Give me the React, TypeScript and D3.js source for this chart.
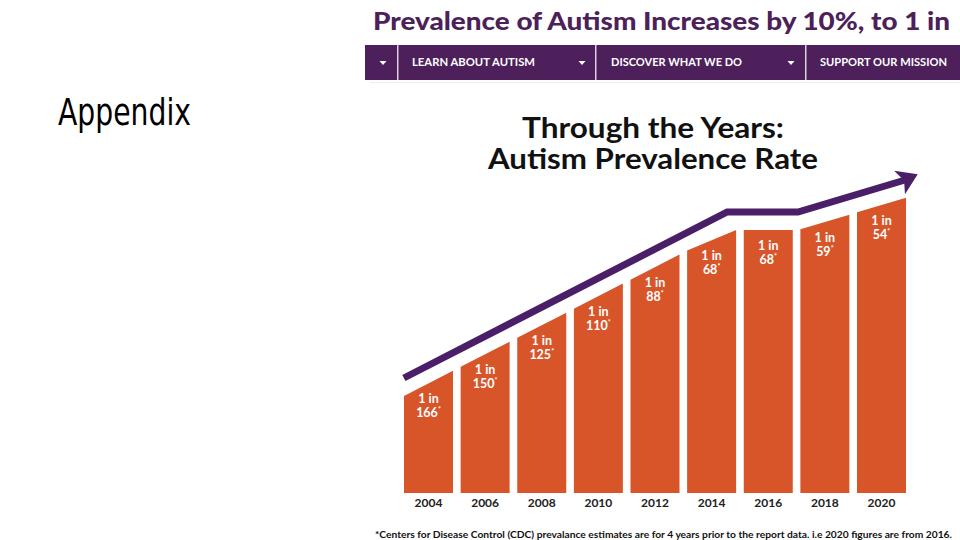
import React from "react";
import * as d3 from "d3";

// bar categories and the "1 in N" prevalence figures
const years = [2004, 2006, 2008, 2010, 2012, 2014, 2016, 2018, 2020];
const ratios = [166, 150, 125, 110, 88, 68, 68, 59, 54];

// trend arrow drawn over the bars (year, drawn level)
const trendYears = [2003.13, 2014.55, 2017.05, 2020.83];
const trendLevels = [115, 281, 281, 313];

const navItems = ["LEARN ABOUT AUTISM", "DISCOVER WHAT WE DO", "SUPPORT OUR MISSION"];

const ORANGE = "#d8552a";
const PURPLE = "#4b1f68";
const NAV = "#4d1f5b";
const FONT = "Lato, 'Open Sans', sans-serif";

export default function App() {
  const width = 960;
  const height = 540;
  const baseY = 493;
  const barW = 49;
  const gap = 18;

  const x = d3.scaleLinear().domain([2004, 2020]).range([428.5, 881.5]);
  const y = d3.scaleLinear().domain([0, 320]).range([baseY, baseY - 320]);
  const trend = d3.scaleLinear().domain(trendYears).range(trendLevels);

  // top of a bar at a given pixel x sits just under the arrow
  const topAt = (px: number) => y(trend(x.invert(px))) + gap;

  const line = d3.line<number>()
    .x((d, i) => x(trendYears[i]))
    .y(d => y(d));

  const n = trendYears.length;
  const ex = x(trendYears[n - 1]);
  const ey = y(trendLevels[n - 1]);
  const px = x(trendYears[n - 2]);
  const py = y(trendLevels[n - 2]);
  const ang = (Math.atan2(ey - py, ex - px) * 180) / Math.PI - 8;

  const navSeps = [398, 596, 806];
  const navText = [412, 611, 820];
  const navArrows = [383, 582, 791];

  return (
    <svg width={width} height={height} style={{ position: "absolute", left: 0, top: 0, background: "#fff" }}>
      <text x={58} y={125} fontFamily="'Liberation Sans Narrow', 'DejaVu Sans Condensed', sans-serif"
        fontSize={38} textLength={133} lengthAdjust="spacingAndGlyphs" fill="#000">Appendix</text>

      <text x={373} y={30} fontFamily={FONT} fontWeight={900} fontSize={25} fill={NAV}
        textLength={577} lengthAdjust="spacingAndGlyphs">Prevalence of Autism Increases by 10%, to 1 in</text>

      <rect x={365} y={45} width={595} height={35} fill={NAV} />
      {navSeps.map((s, i) => (
        <rect key={i} x={s - 1} y={45} width={1.5} height={35} fill="#d9cfe0" />
      ))}
      {navArrows.map((a, i) => (
        <path key={i} d={`M${a - 3.5},${61} L${a + 3.5},${61} L${a},${65} Z`} fill="#fff" />
      ))}
      {navItems.map((t, i) => (
        <text key={i} x={navText[i]} y={66} fontFamily={FONT} fontWeight={700} fontSize={11.5} fill="#fff"
          textLength={i === 0 ? 123 : i === 1 ? 131 : 127} lengthAdjust="spacingAndGlyphs">{t}</text>
      ))}
      <rect x={370} y={82} width={590} height={1} fill="#eee" />

      <text x={653} y={138} textAnchor="middle" fontFamily={FONT} fontWeight={700} fontSize={28} fill="#111"
        textLength={262} lengthAdjust="spacingAndGlyphs">Through the Years:</text>
      <text x={653} y={169} textAnchor="middle" fontFamily={FONT} fontWeight={700} fontSize={28} fill="#111"
        textLength={330} lengthAdjust="spacingAndGlyphs">Autism Prevalence Rate</text>

      {years.map((yr, i) => {
        const cx = x(yr);
        const l = cx - barW / 2;
        const r = cx + barW / 2;
        const tl = topAt(l);
        const tr = topAt(r);
        const tc = (tl + tr) / 2;
        return (
          <g key={yr}>
            <path d={`M${l},${baseY} L${l},${tl} L${r},${tr} L${r},${baseY} Z`} fill={ORANGE} />
            <text x={cx} y={tc + 20} textAnchor="middle" fontFamily={FONT} fontWeight={700} fontSize={12.5} fill="#fff">1 in</text>
            <text x={cx} y={tc + 34} textAnchor="middle" fontFamily={FONT} fontWeight={700} fontSize={12.5} fill="#fff">
              {ratios[i]}<tspan fontSize={7} dy={-5}>*</tspan>
            </text>
            <text x={cx} y={507} textAnchor="middle" fontFamily={FONT} fontWeight={700} fontSize={12} fill="#222">{yr}</text>
          </g>
        );
      })}

      <path d={line(trendLevels) || ""} fill="none" stroke={PURPLE} strokeWidth={7} strokeLinejoin="miter" />
      <g transform={`translate(${ex},${ey}) rotate(${ang})`}>
        <path d="M-6,-13 L14,0 L-6,13 L-1,0 Z" fill={PURPLE} />
      </g>

      <text x={375} y={538} fontFamily={FONT} fontWeight={700} fontSize={9.5} fill="#111"
        textLength={577} lengthAdjust="spacingAndGlyphs">
        *Centers for Disease Control (CDC) prevalance estimates are for 4 years prior to the report data. i.e 2020 figures are from 2016.
      </text>
    </svg>
  );
}
